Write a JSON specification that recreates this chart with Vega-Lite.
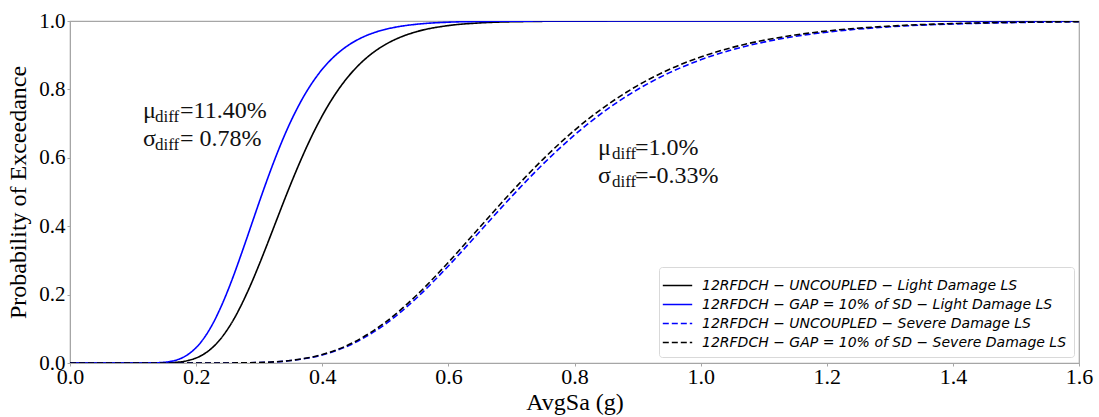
{
  "$schema": "https://vega.github.io/schema/vega-lite/v6.json",
  "width": 1009,
  "height": 342,
  "autosize": {"type": "none"},
  "padding": {"left": 70, "top": 21, "right": 20, "bottom": 54},
  "background": "white",
  "config": {
    "font": "Liberation Serif",
    "view": {"stroke": "#a6a6a6", "strokeWidth": 1.2},
    "axis": {"grid": false, "domainColor": "#a6a6a6", "tickColor": "#a6a6a6", "tickSize": 3, "labelColor": "#000", "titleColor": "#000", "labelFont": "Liberation Serif", "titleFont": "Liberation Serif", "titleFontWeight": "normal"}
  },
  "datasets": {
    "curves": [
      {"x": 0, "p": 0, "s": "12RFDCH − UNCOUPLED − Light Damage LS"},
      {"x": 0.1, "p": 0, "s": "12RFDCH − UNCOUPLED − Light Damage LS"},
      {"x": 0.12, "p": 0.00001, "s": "12RFDCH − UNCOUPLED − Light Damage LS"},
      {"x": 0.14, "p": 0.00015, "s": "12RFDCH − UNCOUPLED − Light Damage LS"},
      {"x": 0.15, "p": 0.00043, "s": "12RFDCH − UNCOUPLED − Light Damage LS"},
      {"x": 0.16, "p": 0.00106, "s": "12RFDCH − UNCOUPLED − Light Damage LS"},
      {"x": 0.17, "p": 0.0023, "s": "12RFDCH − UNCOUPLED − Light Damage LS"},
      {"x": 0.18, "p": 0.0046, "s": "12RFDCH − UNCOUPLED − Light Damage LS"},
      {"x": 0.19, "p": 0.0085, "s": "12RFDCH − UNCOUPLED − Light Damage LS"},
      {"x": 0.2, "p": 0.0146, "s": "12RFDCH − UNCOUPLED − Light Damage LS"},
      {"x": 0.21, "p": 0.0235, "s": "12RFDCH − UNCOUPLED − Light Damage LS"},
      {"x": 0.22, "p": 0.0359, "s": "12RFDCH − UNCOUPLED − Light Damage LS"},
      {"x": 0.23, "p": 0.0524, "s": "12RFDCH − UNCOUPLED − Light Damage LS"},
      {"x": 0.24, "p": 0.0733, "s": "12RFDCH − UNCOUPLED − Light Damage LS"},
      {"x": 0.25, "p": 0.0989, "s": "12RFDCH − UNCOUPLED − Light Damage LS"},
      {"x": 0.26, "p": 0.1288, "s": "12RFDCH − UNCOUPLED − Light Damage LS"},
      {"x": 0.27, "p": 0.1635, "s": "12RFDCH − UNCOUPLED − Light Damage LS"},
      {"x": 0.28, "p": 0.2019, "s": "12RFDCH − UNCOUPLED − Light Damage LS"},
      {"x": 0.29, "p": 0.2435, "s": "12RFDCH − UNCOUPLED − Light Damage LS"},
      {"x": 0.3, "p": 0.2881, "s": "12RFDCH − UNCOUPLED − Light Damage LS"},
      {"x": 0.31, "p": 0.3343, "s": "12RFDCH − UNCOUPLED − Light Damage LS"},
      {"x": 0.32, "p": 0.3817, "s": "12RFDCH − UNCOUPLED − Light Damage LS"},
      {"x": 0.33, "p": 0.4294, "s": "12RFDCH − UNCOUPLED − Light Damage LS"},
      {"x": 0.34, "p": 0.4769, "s": "12RFDCH − UNCOUPLED − Light Damage LS"},
      {"x": 0.35, "p": 0.523, "s": "12RFDCH − UNCOUPLED − Light Damage LS"},
      {"x": 0.36, "p": 0.5675, "s": "12RFDCH − UNCOUPLED − Light Damage LS"},
      {"x": 0.37, "p": 0.6101, "s": "12RFDCH − UNCOUPLED − Light Damage LS"},
      {"x": 0.38, "p": 0.6504, "s": "12RFDCH − UNCOUPLED − Light Damage LS"},
      {"x": 0.39, "p": 0.688, "s": "12RFDCH − UNCOUPLED − Light Damage LS"},
      {"x": 0.4, "p": 0.723, "s": "12RFDCH − UNCOUPLED − Light Damage LS"},
      {"x": 0.42, "p": 0.7843, "s": "12RFDCH − UNCOUPLED − Light Damage LS"},
      {"x": 0.44, "p": 0.8347, "s": "12RFDCH − UNCOUPLED − Light Damage LS"},
      {"x": 0.46, "p": 0.8751, "s": "12RFDCH − UNCOUPLED − Light Damage LS"},
      {"x": 0.48, "p": 0.9067, "s": "12RFDCH − UNCOUPLED − Light Damage LS"},
      {"x": 0.5, "p": 0.9311, "s": "12RFDCH − UNCOUPLED − Light Damage LS"},
      {"x": 0.52, "p": 0.9496, "s": "12RFDCH − UNCOUPLED − Light Damage LS"},
      {"x": 0.55, "p": 0.969, "s": "12RFDCH − UNCOUPLED − Light Damage LS"},
      {"x": 0.6, "p": 0.9866, "s": "12RFDCH − UNCOUPLED − Light Damage LS"},
      {"x": 0.65, "p": 0.9944, "s": "12RFDCH − UNCOUPLED − Light Damage LS"},
      {"x": 0.7, "p": 0.9977, "s": "12RFDCH − UNCOUPLED − Light Damage LS"},
      {"x": 0.8, "p": 0.9996, "s": "12RFDCH − UNCOUPLED − Light Damage LS"},
      {"x": 1.0, "p": 1.0, "s": "12RFDCH − UNCOUPLED − Light Damage LS"},
      {"x": 1.6, "p": 1.0, "s": "12RFDCH − UNCOUPLED − Light Damage LS"},

      {"x": 0, "p": 0, "s": "12RFDCH − GAP = 10% of SD − Light Damage LS"},
      {"x": 0.1, "p": 0, "s": "12RFDCH − GAP = 10% of SD − Light Damage LS"},
      {"x": 0.12, "p": 0.0001, "s": "12RFDCH − GAP = 10% of SD − Light Damage LS"},
      {"x": 0.14, "p": 0.0009, "s": "12RFDCH − GAP = 10% of SD − Light Damage LS"},
      {"x": 0.15, "p": 0.0022, "s": "12RFDCH − GAP = 10% of SD − Light Damage LS"},
      {"x": 0.16, "p": 0.0048, "s": "12RFDCH − GAP = 10% of SD − Light Damage LS"},
      {"x": 0.17, "p": 0.0095, "s": "12RFDCH − GAP = 10% of SD − Light Damage LS"},
      {"x": 0.18, "p": 0.0171, "s": "12RFDCH − GAP = 10% of SD − Light Damage LS"},
      {"x": 0.19, "p": 0.0286, "s": "12RFDCH − GAP = 10% of SD − Light Damage LS"},
      {"x": 0.2, "p": 0.0449, "s": "12RFDCH − GAP = 10% of SD − Light Damage LS"},
      {"x": 0.21, "p": 0.0666, "s": "12RFDCH − GAP = 10% of SD − Light Damage LS"},
      {"x": 0.22, "p": 0.0941, "s": "12RFDCH − GAP = 10% of SD − Light Damage LS"},
      {"x": 0.23, "p": 0.1276, "s": "12RFDCH − GAP = 10% of SD − Light Damage LS"},
      {"x": 0.24, "p": 0.1666, "s": "12RFDCH − GAP = 10% of SD − Light Damage LS"},
      {"x": 0.25, "p": 0.2106, "s": "12RFDCH − GAP = 10% of SD − Light Damage LS"},
      {"x": 0.26, "p": 0.2586, "s": "12RFDCH − GAP = 10% of SD − Light Damage LS"},
      {"x": 0.27, "p": 0.3099, "s": "12RFDCH − GAP = 10% of SD − Light Damage LS"},
      {"x": 0.28, "p": 0.3628, "s": "12RFDCH − GAP = 10% of SD − Light Damage LS"},
      {"x": 0.29, "p": 0.4165, "s": "12RFDCH − GAP = 10% of SD − Light Damage LS"},
      {"x": 0.3, "p": 0.4701, "s": "12RFDCH − GAP = 10% of SD − Light Damage LS"},
      {"x": 0.31, "p": 0.5223, "s": "12RFDCH − GAP = 10% of SD − Light Damage LS"},
      {"x": 0.32, "p": 0.5726, "s": "12RFDCH − GAP = 10% of SD − Light Damage LS"},
      {"x": 0.33, "p": 0.6202, "s": "12RFDCH − GAP = 10% of SD − Light Damage LS"},
      {"x": 0.34, "p": 0.6649, "s": "12RFDCH − GAP = 10% of SD − Light Damage LS"},
      {"x": 0.35, "p": 0.706, "s": "12RFDCH − GAP = 10% of SD − Light Damage LS"},
      {"x": 0.36, "p": 0.7434, "s": "12RFDCH − GAP = 10% of SD − Light Damage LS"},
      {"x": 0.37, "p": 0.7775, "s": "12RFDCH − GAP = 10% of SD − Light Damage LS"},
      {"x": 0.38, "p": 0.8079, "s": "12RFDCH − GAP = 10% of SD − Light Damage LS"},
      {"x": 0.39, "p": 0.835, "s": "12RFDCH − GAP = 10% of SD − Light Damage LS"},
      {"x": 0.4, "p": 0.859, "s": "12RFDCH − GAP = 10% of SD − Light Damage LS"},
      {"x": 0.42, "p": 0.8981, "s": "12RFDCH − GAP = 10% of SD − Light Damage LS"},
      {"x": 0.44, "p": 0.9274, "s": "12RFDCH − GAP = 10% of SD − Light Damage LS"},
      {"x": 0.46, "p": 0.949, "s": "12RFDCH − GAP = 10% of SD − Light Damage LS"},
      {"x": 0.48, "p": 0.9645, "s": "12RFDCH − GAP = 10% of SD − Light Damage LS"},
      {"x": 0.5, "p": 0.9755, "s": "12RFDCH − GAP = 10% of SD − Light Damage LS"},
      {"x": 0.52, "p": 0.9832, "s": "12RFDCH − GAP = 10% of SD − Light Damage LS"},
      {"x": 0.55, "p": 0.9906, "s": "12RFDCH − GAP = 10% of SD − Light Damage LS"},
      {"x": 0.6, "p": 0.9965, "s": "12RFDCH − GAP = 10% of SD − Light Damage LS"},
      {"x": 0.65, "p": 0.9987, "s": "12RFDCH − GAP = 10% of SD − Light Damage LS"},
      {"x": 0.7, "p": 0.9995, "s": "12RFDCH − GAP = 10% of SD − Light Damage LS"},
      {"x": 0.8, "p": 1.0, "s": "12RFDCH − GAP = 10% of SD − Light Damage LS"},
      {"x": 1.0, "p": 1.0, "s": "12RFDCH − GAP = 10% of SD − Light Damage LS"},
      {"x": 1.6, "p": 1.0, "s": "12RFDCH − GAP = 10% of SD − Light Damage LS"},

      {"x": 0, "p": 0, "s": "12RFDCH − UNCOUPLED − Severe Damage LS"},
      {"x": 0.1, "p": 0, "s": "12RFDCH − UNCOUPLED − Severe Damage LS"},
      {"x": 0.2, "p": 0, "s": "12RFDCH − UNCOUPLED − Severe Damage LS"},
      {"x": 0.25, "p": 0.00015, "s": "12RFDCH − UNCOUPLED − Severe Damage LS"},
      {"x": 0.3, "p": 0.0014, "s": "12RFDCH − UNCOUPLED − Severe Damage LS"},
      {"x": 0.35, "p": 0.0071, "s": "12RFDCH − UNCOUPLED − Severe Damage LS"},
      {"x": 0.4, "p": 0.0236, "s": "12RFDCH − UNCOUPLED − Severe Damage LS"},
      {"x": 0.45, "p": 0.0578, "s": "12RFDCH − UNCOUPLED − Severe Damage LS"},
      {"x": 0.5, "p": 0.1137, "s": "12RFDCH − UNCOUPLED − Severe Damage LS"},
      {"x": 0.55, "p": 0.1908, "s": "12RFDCH − UNCOUPLED − Severe Damage LS"},
      {"x": 0.6, "p": 0.2837, "s": "12RFDCH − UNCOUPLED − Severe Damage LS"},
      {"x": 0.65, "p": 0.3848, "s": "12RFDCH − UNCOUPLED − Severe Damage LS"},
      {"x": 0.7, "p": 0.4861, "s": "12RFDCH − UNCOUPLED − Severe Damage LS"},
      {"x": 0.75, "p": 0.5814, "s": "12RFDCH − UNCOUPLED − Severe Damage LS"},
      {"x": 0.8, "p": 0.6666, "s": "12RFDCH − UNCOUPLED − Severe Damage LS"},
      {"x": 0.85, "p": 0.7395, "s": "12RFDCH − UNCOUPLED − Severe Damage LS"},
      {"x": 0.9, "p": 0.7997, "s": "12RFDCH − UNCOUPLED − Severe Damage LS"},
      {"x": 0.95, "p": 0.8483, "s": "12RFDCH − UNCOUPLED − Severe Damage LS"},
      {"x": 1.0, "p": 0.8865, "s": "12RFDCH − UNCOUPLED − Severe Damage LS"},
      {"x": 1.05, "p": 0.9159, "s": "12RFDCH − UNCOUPLED − Severe Damage LS"},
      {"x": 1.1, "p": 0.9382, "s": "12RFDCH − UNCOUPLED − Severe Damage LS"},
      {"x": 1.15, "p": 0.955, "s": "12RFDCH − UNCOUPLED − Severe Damage LS"},
      {"x": 1.2, "p": 0.9673, "s": "12RFDCH − UNCOUPLED − Severe Damage LS"},
      {"x": 1.3, "p": 0.9831, "s": "12RFDCH − UNCOUPLED − Severe Damage LS"},
      {"x": 1.4, "p": 0.9913, "s": "12RFDCH − UNCOUPLED − Severe Damage LS"},
      {"x": 1.5, "p": 0.9956, "s": "12RFDCH − UNCOUPLED − Severe Damage LS"},
      {"x": 1.6, "p": 0.9978, "s": "12RFDCH − UNCOUPLED − Severe Damage LS"},

      {"x": 0, "p": 0, "s": "12RFDCH − GAP = 10% of SD − Severe Damage LS"},
      {"x": 0.1, "p": 0, "s": "12RFDCH − GAP = 10% of SD − Severe Damage LS"},
      {"x": 0.2, "p": 0, "s": "12RFDCH − GAP = 10% of SD − Severe Damage LS"},
      {"x": 0.25, "p": 0.00015, "s": "12RFDCH − GAP = 10% of SD − Severe Damage LS"},
      {"x": 0.3, "p": 0.0015, "s": "12RFDCH − GAP = 10% of SD − Severe Damage LS"},
      {"x": 0.35, "p": 0.0075, "s": "12RFDCH − GAP = 10% of SD − Severe Damage LS"},
      {"x": 0.4, "p": 0.0248, "s": "12RFDCH − GAP = 10% of SD − Severe Damage LS"},
      {"x": 0.45, "p": 0.0606, "s": "12RFDCH − GAP = 10% of SD − Severe Damage LS"},
      {"x": 0.5, "p": 0.119, "s": "12RFDCH − GAP = 10% of SD − Severe Damage LS"},
      {"x": 0.55, "p": 0.1988, "s": "12RFDCH − GAP = 10% of SD − Severe Damage LS"},
      {"x": 0.6, "p": 0.2944, "s": "12RFDCH − GAP = 10% of SD − Severe Damage LS"},
      {"x": 0.65, "p": 0.3974, "s": "12RFDCH − GAP = 10% of SD − Severe Damage LS"},
      {"x": 0.7, "p": 0.5, "s": "12RFDCH − GAP = 10% of SD − Severe Damage LS"},
      {"x": 0.75, "p": 0.5956, "s": "12RFDCH − GAP = 10% of SD − Severe Damage LS"},
      {"x": 0.8, "p": 0.6804, "s": "12RFDCH − GAP = 10% of SD − Severe Damage LS"},
      {"x": 0.85, "p": 0.7521, "s": "12RFDCH − GAP = 10% of SD − Severe Damage LS"},
      {"x": 0.9, "p": 0.8111, "s": "12RFDCH − GAP = 10% of SD − Severe Damage LS"},
      {"x": 0.95, "p": 0.8581, "s": "12RFDCH − GAP = 10% of SD − Severe Damage LS"},
      {"x": 1.0, "p": 0.8947, "s": "12RFDCH − GAP = 10% of SD − Severe Damage LS"},
      {"x": 1.05, "p": 0.9226, "s": "12RFDCH − GAP = 10% of SD − Severe Damage LS"},
      {"x": 1.1, "p": 0.9436, "s": "12RFDCH − GAP = 10% of SD − Severe Damage LS"},
      {"x": 1.15, "p": 0.9592, "s": "12RFDCH − GAP = 10% of SD − Severe Damage LS"},
      {"x": 1.2, "p": 0.9707, "s": "12RFDCH − GAP = 10% of SD − Severe Damage LS"},
      {"x": 1.3, "p": 0.9851, "s": "12RFDCH − GAP = 10% of SD − Severe Damage LS"},
      {"x": 1.4, "p": 0.9925, "s": "12RFDCH − GAP = 10% of SD − Severe Damage LS"},
      {"x": 1.5, "p": 0.9963, "s": "12RFDCH − GAP = 10% of SD − Severe Damage LS"},
      {"x": 1.6, "p": 0.9981, "s": "12RFDCH − GAP = 10% of SD − Severe Damage LS"}
    ],
    "notes": [
      {"x": 0.1158, "y": 0.7164, "t": "μ", "k": "main"},
      {"x": 0.1348, "y": 0.7046, "t": "diff", "k": "sub"},
      {"x": 0.1745, "y": 0.7164, "t": "=11.40%", "k": "main"},
      {"x": 0.1158, "y": 0.6345, "t": "σ", "k": "main"},
      {"x": 0.1348, "y": 0.6227, "t": "diff", "k": "sub"},
      {"x": 0.1745, "y": 0.6345, "t": "= 0.78%", "k": "main"},
      {"x": 0.8373, "y": 0.6082, "t": "μ", "k": "main"},
      {"x": 0.8595, "y": 0.5964, "t": "diff", "k": "sub"},
      {"x": 0.896, "y": 0.6082, "t": "=1.0%", "k": "main"},
      {"x": 0.8373, "y": 0.5263, "t": "σ", "k": "main"},
      {"x": 0.8595, "y": 0.5145, "t": "diff", "k": "sub"},
      {"x": 0.896, "y": 0.5263, "t": "=-0.33%", "k": "main"}
    ]
  },
  "layer": [
    {
      "data": {"name": "curves"},
      "mark": {"type": "line", "interpolate": "monotone", "strokeWidth": 1.6, "clip": true},
      "encoding": {
        "x": {"field": "x", "type": "quantitative", "scale": {"domain": [0, 1.6], "nice": false, "zero": false},
          "axis": {"title": "AvgSa (g)", "values": [0, 0.2, 0.4, 0.6, 0.8, 1.0, 1.2, 1.4, 1.6], "format": ".1f", "labelFontSize": 22, "titleFontSize": 24, "labelPadding": 0, "titlePadding": 3, "labelFlush": false}},
        "y": {"field": "p", "type": "quantitative", "scale": {"domain": [0, 1], "nice": false},
          "axis": {"title": "Probability of Exceedance", "values": [0, 0.2, 0.4, 0.6, 0.8, 1.0], "format": ".1f", "labelFontSize": 21, "titleFontSize": 24, "labelPadding": 2, "titlePadding": 8, "labelFlush": false}},
        "color": {"field": "s", "type": "nominal",
          "scale": {"domain": ["12RFDCH − UNCOUPLED − Light Damage LS", "12RFDCH − GAP = 10% of SD − Light Damage LS", "12RFDCH − UNCOUPLED − Severe Damage LS", "12RFDCH − GAP = 10% of SD − Severe Damage LS"], "range": ["#000000", "#0000ff", "#0000ff", "#000000"]},
          "legend": {"title": null, "orient": "none", "legendX": 589, "legendY": 246, "symbolType": "M-1.4,0H1.4", "symbolSize": 441, "symbolStrokeWidth": 1.5, "labelFont": "DejaVu Sans", "labelFontStyle": "italic", "labelFontSize": 14, "labelLimit": 600, "rowPadding": 0, "padding": 7, "strokeColor": "#d9d9d9", "fillColor": "white", "cornerRadius": 3, "labelOffset": 13}},
        "strokeDash": {"field": "s", "type": "nominal",
          "scale": {"domain": ["12RFDCH − UNCOUPLED − Light Damage LS", "12RFDCH − GAP = 10% of SD − Light Damage LS", "12RFDCH − UNCOUPLED − Severe Damage LS", "12RFDCH − GAP = 10% of SD − Severe Damage LS"], "range": [[1, 0], [1, 0], [6, 3], [6, 3]]},
          "legend": {"title": null, "orient": "none", "legendX": 589, "legendY": 246, "symbolType": "M-1.4,0H1.4", "symbolSize": 441, "symbolStrokeWidth": 1.5, "labelFont": "DejaVu Sans", "labelFontStyle": "italic", "labelFontSize": 14, "labelLimit": 600, "rowPadding": 0, "padding": 7, "strokeColor": "#d9d9d9", "fillColor": "white", "cornerRadius": 3, "labelOffset": 13}}
      }
    },
    {
      "data": {"name": "notes"},
      "mark": {"type": "text", "align": "left", "baseline": "alphabetic", "font": "Liberation Serif", "color": "#111111"},
      "encoding": {
        "x": {"field": "x", "type": "quantitative"},
        "y": {"field": "y", "type": "quantitative"},
        "text": {"field": "t", "type": "nominal"},
        "size": {"field": "k", "type": "nominal", "scale": {"domain": ["main", "sub"], "range": [24, 17]}, "legend": null}
      }
    }
  ]
}
